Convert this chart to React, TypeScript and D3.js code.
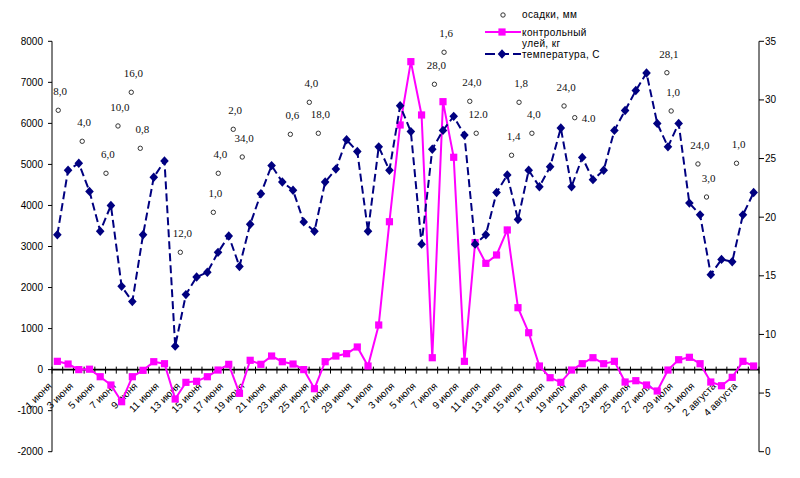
import React from "react";
import * as d3 from "d3";

// ---- data ----
const tickLabels = [
  "1 июня", "3 июня", "5 июня", "7 июня", "9 июня", "11 июня", "13 июня", "15 июня",
  "17 июня", "19 июня", "21 июня", "23 июня", "25 июня", "27 июня", "29 июня",
  "1 июля", "3 июля", "5 июля", "7 июля", "9 июля", "11 июля", "13 июля", "15 июля",
  "17 июля", "19 июля", "21 июля", "23 июля", "25 июля", "27 июля", "29 июля", "31 июля",
  "2 августа", "4 августа",
];
const dayCount = 66;
const days = d3.range(dayCount);

// контрольный улей, кг (left axis)
const hiveWeight = [
  202, 136, 0, 10, -173, -375, -782, -173, -17, 193, 144, -716, -310, -285, -173, -10,
  129, -578, 227, 129, 331, 193, 136, 0, -465, 193, 331, 388, 551, 88, 1087, 3604,
  5961, 7504, 6205, 290, 6529, 5174, 202, 3093, 2590, 2793, 3403, 1509, 899, 88, -197,
  -310, -10, 144, 290, 144, 202, -302, -270, -375, -521, -10, 241, 300, 144, -302, -392,
  -188, 202, 88,
];

// температура, С (right axis)
const temperature = [
  18.5, 24.0, 24.6, 22.2, 18.8, 21.0, 14.1, 12.8, 18.5, 23.4, 24.8, 9.0, 13.4, 14.9,
  15.3, 17.0, 18.4, 15.8, 19.4, 22.0, 24.4, 23.0, 22.3, 19.6, 18.8, 23.0, 24.1, 26.6,
  25.6, 18.8, 26.0, 24.0, 29.5, 27.3, 17.7, 25.8, 27.4, 28.6, 27.0, 17.7, 18.5, 22.1,
  23.6, 19.8, 24.0, 22.6, 24.3, 27.6, 22.6, 25.1, 23.2, 24.0, 27.4, 29.1, 30.8, 32.3,
  28.0, 26.0, 28.0, 21.2, 20.2, 15.1, 16.4, 16.2, 20.2, 22.1,
];

// осадки, мм: position (day index, left-axis value) and label
const rainDay = [
  0.08, 2.32, 4.54, 5.66, 6.9, 7.74, 11.48, 14.56, 15.02, 16.42, 17.26, 21.75, 23.52,
  24.36, 35.2, 36.1, 38.5, 39.1, 42.4, 43.1, 44.3, 47.3, 48.3, 56.9, 57.3, 59.8, 60.6, 63.4,
];
const rainLevel = [
  6319, 5564, 4784, 5937, 6758, 5393, 2859, 3833, 4784, 5856, 5181, 5734, 6514, 5759,
  6953, 7733, 6538, 5759, 5223, 6514, 5759, 6424, 6139, 7235, 6302, 5011, 4206, 5028,
];
const rainLabel = [
  "8,0", "4,0", "6,0", "10,0", "16,0", "0,8", "12,0", "1,0", "4,0", "2,0", "34,0", "0,6",
  "4,0", "18,0", "28,0", "1,6", "24,0", "12.0", "1,4", "1,8", "4,0", "24,0", "4.0", "28,1",
  "1,0", "24,0", "3,0", "1,0",
];
const rainLabelSide = rainLabel.map((_, i) => (i === 22 ? "right" : "top"));

const leftTicks = [-2000, -1000, 0, 1000, 2000, 3000, 4000, 5000, 6000, 7000, 8000];
const rightTicks = [0, 5, 10, 15, 20, 25, 30, 35];

// ---- layout ----
const W = 800;
const H = 478;
const plotLeft = 52;
const plotRight = 759;
const plotTop = 41.3;
const plotBottom = 451.7;

const PINK = "#FF00FF";
const NAVY = "#000080";
const SANS = "Arial, 'Liberation Sans', sans-serif";
const SERIF = "'Times New Roman', 'Liberation Serif', serif";

export default function App() {
  const x = d3.scaleBand<number>().domain(days).range([plotLeft, plotRight]).padding(0);
  const bw = x.bandwidth();
  const cx = (i: number) => (x(i) as number) + bw / 2;
  const xLin = d3.scaleLinear().domain([0, dayCount - 1]).range([cx(0), cx(dayCount - 1)]);
  const yL = d3.scaleLinear().domain([-2000, 8000]).range([plotBottom, plotTop]);
  const yR = d3.scaleLinear().domain([0, 35]).range([plotBottom, plotTop]);
  const y0 = yL(0);

  const hiveLine = d3
    .line<number>()
    .x((_, i) => cx(i))
    .y((d) => yL(d))(hiveWeight) as string;
  const tempLine = d3
    .line<number>()
    .x((_, i) => cx(i))
    .y((d) => yR(d))(temperature) as string;

  const diamond = (px: number, py: number, s = 4.3) =>
    `M${px},${py - s - 0.4}L${px + s},${py}L${px},${py + s + 0.4}L${px - s},${py}Z`;

  const boundaries = d3.range(dayCount + 1).map((k) => plotLeft + k * bw);

  return (
    <svg
      width={W}
      height={H}
      style={{ position: "absolute", left: 0, top: 0, background: "#fff" }}
    >
      <rect x={0} y={0} width={W} height={H} fill="#fff" />

      {/* left axis */}
      <line x1={plotLeft} x2={plotLeft} y1={plotTop} y2={plotBottom} stroke="#000" strokeWidth={1} />
      {leftTicks.map((t) => (
        <g key={"l" + t}>
          <line x1={plotLeft - 4} x2={plotLeft} y1={yL(t)} y2={yL(t)} stroke="#000" />
          <text
            x={plotLeft - 9}
            y={yL(t)}
            dy="0.35em"
            textAnchor="end"
            fontFamily={SANS}
            fontSize={10}
            fill="#000"
          >
            {t}
          </text>
        </g>
      ))}

      {/* right axis */}
      <line x1={plotRight} x2={plotRight} y1={plotTop} y2={plotBottom} stroke="#000" strokeWidth={1} />
      {rightTicks.map((t) => (
        <g key={"r" + t}>
          <line x1={plotRight} x2={plotRight + 5} y1={yR(t)} y2={yR(t)} stroke="#000" />
          <text
            x={plotRight + 6}
            y={yR(t)}
            dy="0.35em"
            textAnchor="start"
            fontFamily={SANS}
            fontSize={10}
            fill="#000"
          >
            {t}
          </text>
        </g>
      ))}

      {/* x axis */}
      <line x1={plotLeft} x2={plotRight} y1={y0} y2={y0} stroke="#000" strokeWidth={1.6} />
      {boundaries.map((bx, k) => (
        <line key={"b" + k} x1={bx} x2={bx} y1={y0 - 3} y2={y0 + 4} stroke="#000" />
      ))}
      {tickLabels.map((lab, j) => {
        const i = j * 2;
        const px = cx(i) - 5;
        const py = y0 + 17;
        return (
          <text
            key={"t" + j}
            x={px}
            y={py}
            textAnchor="end"
            fontFamily={SANS}
            fontSize={10}
            fill="#000"
            transform={`rotate(-45 ${px} ${py})`}
          >
            {lab}
          </text>
        );
      })}

      {/* hive weight */}
      <path d={hiveLine} fill="none" stroke={PINK} strokeWidth={2} />
      {hiveWeight.map((v, i) => (
        <rect key={"h" + i} x={cx(i) - 3.6} y={yL(v) - 3.6} width={7.2} height={7.2} fill={PINK} />
      ))}

      {/* temperature */}
      <path d={tempLine} fill="none" stroke={NAVY} strokeWidth={2} strokeDasharray="8,4" />
      {temperature.map((v, i) => (
        <path key={"tp" + i} d={diamond(cx(i), yR(v))} fill={NAVY} />
      ))}

      {/* precipitation */}
      {rainDay.map((d, i) => (
        <circle
          key={"c" + i}
          cx={xLin(d)}
          cy={yL(rainLevel[i])}
          r={2.2}
          fill="#fff"
          stroke="#333"
          strokeWidth={1}
        />
      ))}
      {rainLabel.map((lab, i) => {
        const right = rainLabelSide[i] === "right";
        return (
          <text
            key={"rl" + i}
            x={xLin(rainDay[i]) + (right ? 7 : 2)}
            y={yL(rainLevel[i]) + (right ? 0 : -19)}
            dy="0.35em"
            textAnchor={right ? "start" : "middle"}
            fontFamily={SERIF}
            fontSize={11}
            fill="#111"
          >
            {lab}
          </text>
        );
      })}

      {/* legend */}
      <g fontFamily={SANS} fontSize={10} fill="#000" letterSpacing={0.4}>
        <circle cx={503} cy={15} r={2.2} fill="#fff" stroke="#333" strokeWidth={1} />
        <text x={522} y={18}>осадки, мм</text>
        <line x1={485} x2={521} y1={32} y2={32} stroke={PINK} strokeWidth={2} />
        <rect x={498.4} y={28.4} width={7.2} height={7.2} fill={PINK} />
        <text x={522} y={35.5}>контрольный</text>
        <text x={522} y={47}>улей, кг</text>
        <line x1={485} x2={521} y1={54} y2={54} stroke={NAVY} strokeWidth={2} strokeDasharray="10,4" />
        <path d={diamond(502, 54)} fill={NAVY} />
        <text x={522} y={57.5}>температура, С</text>
      </g>
    </svg>
  );
}
